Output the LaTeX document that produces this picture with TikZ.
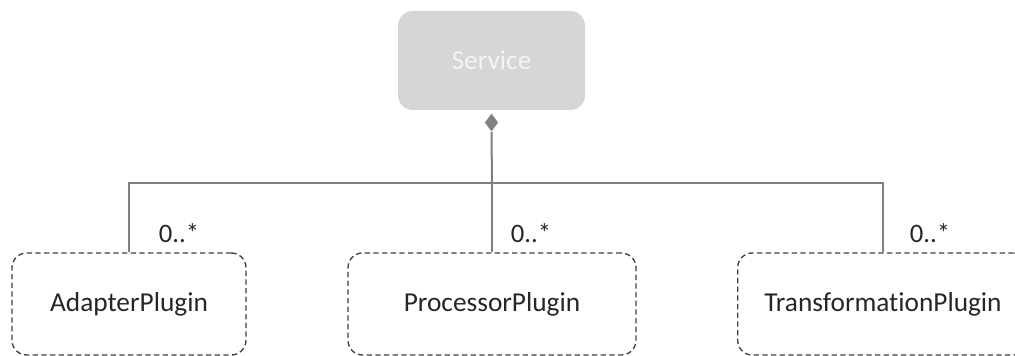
\documentclass[tikz,border=0pt]{standalone}
\usepackage{fontspec}
\setmainfont[Ligatures={NoCommon}]{Carlito}
\usetikzlibrary{shapes.geometric}
\definecolor{svcfill}{HTML}{D6D6D6}
\definecolor{svctext}{HTML}{F4F4F4}
\definecolor{conncol}{HTML}{808080}
\definecolor{boxline}{HTML}{404040}
\begin{document}
\begin{tikzpicture}[x=0.75pt,y=-0.75pt,
  svcbox/.style={rectangle, rounded corners=11pt, fill=svcfill, draw=none,
    minimum width=140.25pt, minimum height=74.25pt, text=svctext,
    font=\fontsize{20.5}{24}\selectfont, inner sep=0pt},
  plugbox/.style={rectangle, rounded corners=11pt, draw=boxline, line width=1pt,
    dash pattern=on 4pt off 2.5pt, minimum height=76.5pt,
    font=\fontsize{20.5}{24}\selectfont, text=black!85, inner sep=0pt},
  compdiamond/.style={diamond, fill=conncol, draw=none, inner sep=0pt,
    minimum width=10pt, minimum height=13.5pt, anchor=north},
  conn/.style={draw=conncol, line width=1.5pt},
  mult/.style={font=\fontsize{20}{24}\selectfont, text=black!85, inner sep=0pt}]
\useasboundingbox (0,0) rectangle (1015,356);
\clip (0,0) rectangle (1015,356);
\node[svcbox] (svc) at (491.5,60.5) {Service};
\node[compdiamond] (dia) at ([yshift=-2.25pt]svc.south) {};
\node[plugbox, minimum width=175.5pt] (ad) at (129,304) {AdapterPlugin};
\node[plugbox, minimum width=216pt] (proc) at (492,304) {ProcessorPlugin};
\node[plugbox, minimum width=218pt] (tr) at (883,304) {TransformationPlugin};
\coordinate (hub) at (492,183);
\draw[conn] (dia.south) -- (hub);
\draw[conn] (hub) -- (proc.north);
\draw[conn] (ad.north) |- (hub);
\draw[conn] (tr.north) |- (hub);
\node[mult] (m1) at (179,233) {0..*};
\node[mult] (m2) at (531,233) {0..*};
\node[mult] (m3) at (930,233) {0..*};
\end{tikzpicture}
\end{document}
